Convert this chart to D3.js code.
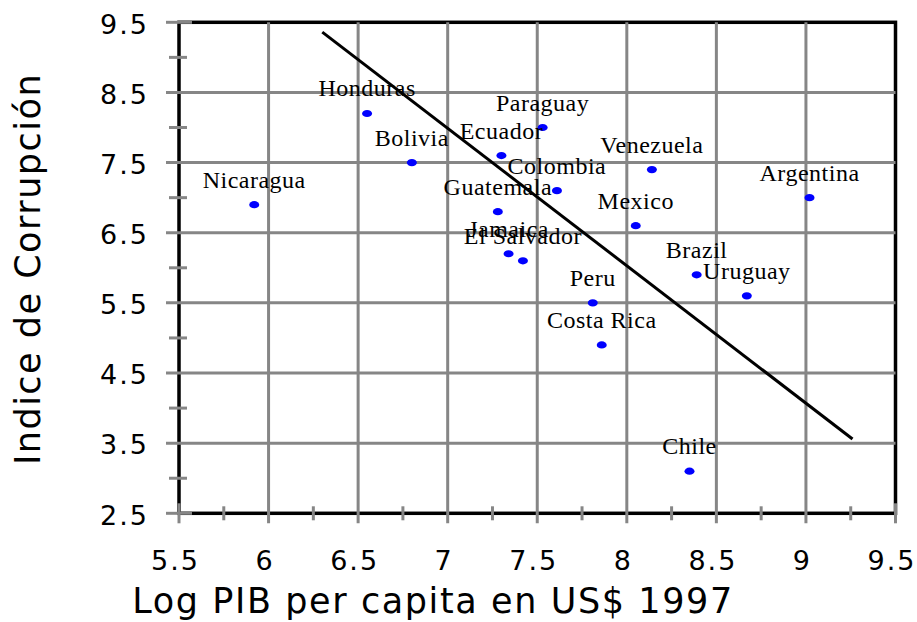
<!DOCTYPE html>
<html>
<head>
<meta charset="utf-8">
<script src="https://cdn.jsdelivr.net/npm/d3@7"></script>
<style>
  body { margin: 0; background: #fff; }
  svg { display: block; }
</style>
</head>
<body>
<script>
// paises y valores
var countries = ["Honduras", "Bolivia", "Nicaragua", "Paraguay", "Ecuador", "Colombia",
  "Guatemala", "Jamaica", "El Salvador", "Venezuela", "Argentina", "Mexico",
  "Brazil", "Uruguay", "Peru", "Costa Rica", "Chile"];
var logPib = [6.55, 6.80, 5.92, 7.53, 7.30, 7.61, 7.28, 7.34, 7.42, 8.14, 9.02, 8.05,
  8.39, 8.67, 7.81, 7.86, 8.35];
var corrupcion = [8.2, 7.5, 6.9, 8.0, 7.6, 7.1, 6.8, 6.2, 6.1, 7.4, 7.0, 6.6,
  5.9, 5.6, 5.5, 4.9, 3.1];

// recta de tendencia
var fitX = [6.30, 9.26];
var fitY = [9.36, 3.56];

var xTicks = [5.5, 6, 6.5, 7, 7.5, 8, 8.5, 9, 9.5];
var xTickLabels = ["5.5", "6", "6.5", "7", "7.5", "8", "8.5", "9", "9.5"];
var xMinor = [5.75, 6.25, 6.75, 7.25, 7.75, 8.25, 8.75, 9.25];
var yTicks = [2.5, 3.5, 4.5, 5.5, 6.5, 7.5, 8.5, 9.5];
var yTickLabels = ["2.5", "3.5", "4.5", "5.5", "6.5", "7.5", "8.5", "9.5"];
var yMinor = [3, 4, 5, 6, 7, 8, 9];

var width = 917, height = 622;
var plotL = 179, plotR = 895.5, plotT = 22.3, plotB = 513.3;

var x = d3.scaleLinear().domain([5.5, 9.5]).range([plotL, plotR]);
var y = d3.scaleLinear().domain([2.5, 9.5]).range([plotB, plotT]);

var svg = d3.select("body").append("svg")
  .attr("width", width)
  .attr("height", height);

var gray = "#868686";

// marco negro
svg.append("rect")
  .attr("x", plotL).attr("y", plotT)
  .attr("width", plotR - plotL).attr("height", plotB - plotT)
  .attr("fill", "none")
  .attr("stroke", "#000")
  .attr("stroke-width", 3.5);

// rejilla vertical + marcas mayores en x
svg.selectAll(".vgrid")
  .data(xTicks)
  .enter().append("line")
  .attr("class", "vgrid")
  .attr("x1", function(d) { return x(d); })
  .attr("x2", function(d) { return x(d); })
  .attr("y1", function(d) { return (d === 5.5 || d === 9.5) ? plotB - 10 : plotT; })
  .attr("y2", plotB + 10)
  .attr("stroke", gray)
  .attr("stroke-width", 3);

svg.selectAll(".xminor")
  .data(xMinor)
  .enter().append("line")
  .attr("class", "xminor")
  .attr("x1", function(d) { return x(d); })
  .attr("x2", function(d) { return x(d); })
  .attr("y1", plotB - 7)
  .attr("y2", plotB + 7)
  .attr("stroke", gray)
  .attr("stroke-width", 3);

// rejilla horizontal + marcas mayores en y
svg.selectAll(".hgrid")
  .data(yTicks)
  .enter().append("line")
  .attr("class", "hgrid")
  .attr("x1", plotL - 13)
  .attr("x2", function(d) { return (d === 2.5 || d === 9.5) ? plotL + 13 : plotR; })
  .attr("y1", function(d) { return y(d); })
  .attr("y2", function(d) { return y(d); })
  .attr("stroke", gray)
  .attr("stroke-width", 3);

svg.selectAll(".yminor")
  .data(yMinor)
  .enter().append("line")
  .attr("class", "yminor")
  .attr("x1", plotL - 10)
  .attr("x2", plotL + 8)
  .attr("y1", function(d) { return y(d); })
  .attr("y2", function(d) { return y(d); })
  .attr("stroke", gray)
  .attr("stroke-width", 3);

// etiquetas de los ejes
var gx = svg.append("g")
  .attr("transform", "translate(-4,570)")
  .call(d3.axisBottom(x).tickValues(xTicks).tickSize(0)
    .tickFormat(function(d, i) { return xTickLabels[i]; }));
gx.select(".domain").remove();
gx.selectAll("text")
  .attr("y", 0).attr("dy", 0)
  .attr("fill", "#000")
  .style("font-family", "'DejaVu Sans', Verdana, sans-serif")
  .style("font-size", "27px")
  .style("letter-spacing", "2px");

var gy = svg.append("g")
  .attr("transform", "translate(149,0)")
  .call(d3.axisLeft(y).tickValues(yTicks).tickSize(0).tickPadding(0)
    .tickFormat(function(d, i) { return yTickLabels[i]; }));
gy.select(".domain").remove();
gy.selectAll("text")
  .attr("dy", "0.4em")
  .attr("fill", "#000")
  .style("font-family", "'DejaVu Sans', Verdana, sans-serif")
  .style("font-size", "27px")
  .style("letter-spacing", "2px");

// titulos
svg.append("text")
  .attr("x", 433)
  .attr("y", 613)
  .attr("text-anchor", "middle")
  .style("font-family", "'DejaVu Sans', Verdana, sans-serif")
  .style("font-size", "35px")
  .style("letter-spacing", "1.6px")
  .text("Log PIB per capita en US$ 1997");

svg.append("text")
  .attr("transform", "translate(40,269) rotate(-90)")
  .attr("text-anchor", "middle")
  .style("font-family", "'DejaVu Sans', Verdana, sans-serif")
  .style("font-size", "35px")
  .style("letter-spacing", "1.5px")
  .text("Indice de Corrupción");

// recta
svg.append("line")
  .attr("x1", x(fitX[0])).attr("y1", y(fitY[0]))
  .attr("x2", x(fitX[1])).attr("y2", y(fitY[1]))
  .attr("stroke", "#000")
  .attr("stroke-width", 3);

// puntos
var idx = d3.range(countries.length);

svg.selectAll(".dot")
  .data(idx)
  .enter().append("ellipse")
  .attr("class", "dot")
  .attr("cx", function(i) { return x(logPib[i]); })
  .attr("cy", function(i) { return y(corrupcion[i]); })
  .attr("rx", 5)
  .attr("ry", 3.6)
  .attr("fill", "#0000ff");

svg.selectAll(".lbl")
  .data(idx)
  .enter().append("text")
  .attr("class", "lbl")
  .attr("x", function(i) { return x(logPib[i]); })
  .attr("y", function(i) { return y(corrupcion[i]) - 17; })
  .attr("text-anchor", "middle")
  .style("font-family", "'Liberation Serif', 'Times New Roman', serif")
  .style("font-size", "24px")
  .style("letter-spacing", "0.5px")
  .text(function(i) { return countries[i]; });
</script>
</body>
</html>
